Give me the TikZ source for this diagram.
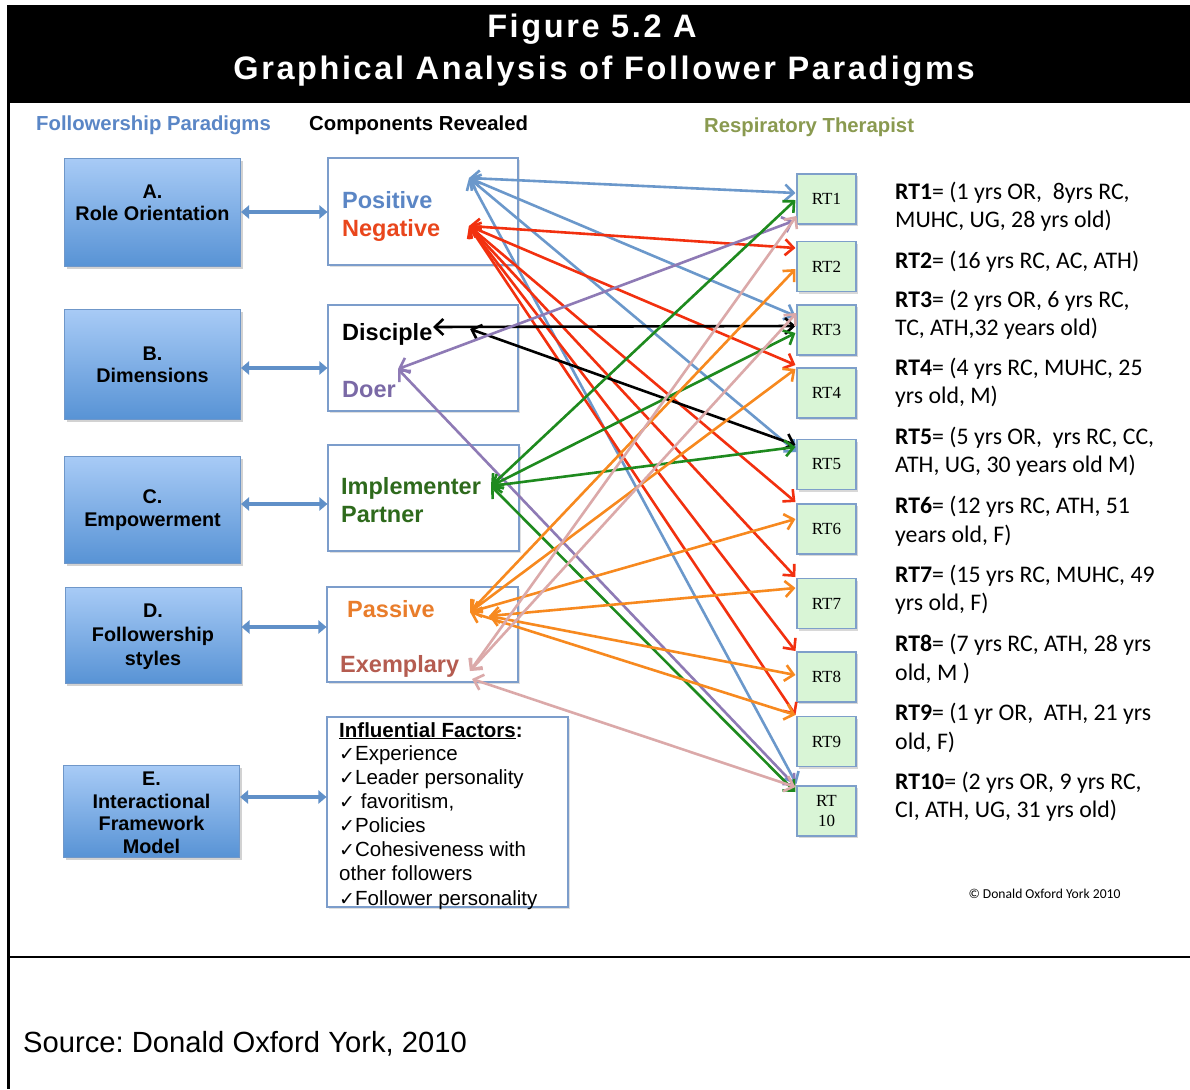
\documentclass[tikz,border=0pt]{standalone}
\usepackage{fontspec}
\setmainfont{Liberation Sans}
\newfontfamily\rtserif{Liberation Serif}
\newfontfamily\notefont{Carlito}
\newfontfamily\tickfont{DejaVu Sans}
\newfontfamily\headfont{Liberation Sans}[LetterSpace=8]
\usetikzlibrary{arrows.meta,shadows,calc}
\frenchspacing

\definecolor{boxtop}{HTML}{A8CBF6}
\definecolor{boxbot}{HTML}{5893D5}
\definecolor{boxedge}{HTML}{6F97C9}
\definecolor{pairblue}{HTML}{6090C8}
\definecolor{compedge}{HTML}{7C9DCB}
\definecolor{rtfill}{HTML}{D9F5D6}
\definecolor{rtedge}{HTML}{7E9FCA}
\definecolor{lnblue}{HTML}{6B98CB}
\definecolor{lnred}{HTML}{F2300F}
\definecolor{lnpurple}{HTML}{8E7AB5}
\definecolor{lngreen}{HTML}{1E8A1E}
\definecolor{lnorange}{HTML}{F7891F}
\definecolor{lnpink}{HTML}{DBA9A9}
\definecolor{txtpos}{HTML}{5B86C5}
\definecolor{txtneg}{HTML}{E9461C}
\definecolor{txtdoer}{HTML}{7A69A6}
\definecolor{txtimpl}{HTML}{2E6A1C}
\definecolor{txtpass}{HTML}{E97D2B}
\definecolor{txtexem}{HTML}{B55C50}
\definecolor{hdrblue}{HTML}{5A86C6}
\definecolor{hdrolive}{HTML}{8A9A50}

\newcommand\tick{{\tickfont\fontsize{19}{19}\selectfont ✓}}

\begin{document}
\begin{tikzpicture}[x=1pt,y=-1pt,
  parabox/.style={draw=boxedge, line width=1pt, top color=boxtop, bottom color=boxbot,
    drop shadow={shadow xshift=2pt, shadow yshift=-2.5pt, opacity=.35},
    inner sep=0pt, minimum width=176pt},
  paratext/.style={font=\bfseries\fontsize{19.8}{22.5}\selectfont, align=center, inner sep=0pt},
  compbox/.style={draw=compedge, line width=1.1pt, fill=white,
    drop shadow={shadow xshift=1.5pt, shadow yshift=-2pt, opacity=.25}, inner sep=0pt},
  comptext/.style={font=\bfseries\fontsize{23.5}{28}\selectfont, anchor=base west, inner sep=0pt},
  pairarrow/.style={draw=pairblue, line width=3.5pt,
    {Triangle[length=8pt,width=13pt]}-{Triangle[length=8pt,width=13pt]}},
  link/.style={draw=#1, line width=2.6pt, line cap=round,
    {Straight Barb[length=8.5pt,width=16pt]}-{Straight Barb[length=8.5pt,width=16pt]}},
  rtbox/.style={draw=rtedge, line width=1.1pt, fill=rtfill,
    drop shadow={shadow xshift=1.5pt, shadow yshift=-2pt, opacity=.3},
    minimum width=59pt, minimum height=50pt, inner sep=0pt, align=center,
    font=\rtserif\fontsize{17}{20}\selectfont},
  note/.style={font=\notefont\fontsize{23.8}{28}\selectfont, anchor=base west, inner sep=0pt},
  factor/.style={font=\fontsize{20.5}{24}\selectfont, anchor=base west, inner sep=0pt}
]
\useasboundingbox (0,0) rectangle (1190,1089);
\fill[white] (0,0) rectangle (1190,1089);

% frame and title band
\fill[black] (7,5) rectangle (1190,103);
\draw[line width=2.5pt] (8.5,5) -- (8.5,1089);
\draw[line width=2.5pt] (8,957) -- (1190,957);
\node[text=white, font=\headfont\bfseries\fontsize{32.5}{38}\selectfont, anchor=base, inner sep=0pt]
  (title1) at (592,38) {Figure 5.2 A};
\node[text=white, font=\headfont\bfseries\fontsize{32.5}{38}\selectfont, anchor=base, inner sep=0pt]
  (title2) at (604,80) {Graphical Analysis of Follower Paradigms};

% column headings
\node[text=hdrblue, font=\bfseries\fontsize{20.3}{24}\selectfont, anchor=base west, inner sep=0pt]
  (hpar) at (36,130) {Followership Paradigms};
\node[font=\bfseries\fontsize{20.3}{24}\selectfont, anchor=base west, inner sep=0pt]
  (hcomp) at (309,130) {Components Revealed};
\node[text=hdrolive, font=\bfseries\fontsize{20.3}{24}\selectfont, anchor=base west, inner sep=0pt]
  (hrt) at (704,132) {Respiratory Therapist};

% paradigm boxes
\node[parabox, minimum height=108pt] (A) at (152.5,212) {};
\node[parabox, minimum height=110pt] (B) at (152.5,364) {};
\node[parabox, minimum height=107pt] (C) at (152.5,509.5) {};
\node[parabox, minimum height=96pt]  (D) at (153,635) {};
\node[parabox, minimum height=92pt]  (E) at (151.5,811) {};
\node[paratext] (Atxt) at (152.5,203) {A.\\Role Orientation};
\node[paratext] (Btxt) at (152.5,365) {B.\\Dimensions};
\node[paratext] (Ctxt) at (152.5,510) {C.\\Empowerment};
\node[paratext, font=\bfseries\fontsize{19.8}{24}\selectfont] (Dtxt) at (153,637) {D.\\Followership\\styles};
\node[paratext] (Etxt) at (151.5,813) {E.\\Interactional\\Framework\\Model};

% component boxes
\node[compbox, minimum width=190pt, minimum height=107pt] (comp1) at (423,211.5) {};
\node[compbox, minimum width=190pt, minimum height=106pt] (comp2) at (423,358) {};
\node[compbox, minimum width=191pt, minimum height=106pt] (comp3) at (423.5,498) {};
\node[compbox, minimum width=191pt, minimum height=95pt]  (comp4) at (422.5,634.5) {};
\node[compbox, minimum width=241pt, minimum height=190pt] (comp5) at (447.5,812) {};

\node[comptext, text=txtpos]  (lpos)  at (342,208) {Positive};
\node[comptext, text=txtneg]  (lneg)  at (342,236) {Negative};
\node[comptext]               (ldis)  at (342,340) {Disciple};
\node[comptext, text=txtdoer] (ldoer) at (342,397) {Doer};
\node[comptext, text=txtimpl] (limp)  at (341,494) {Implementer};
\node[comptext, text=txtimpl] (lpart) at (341,522) {Partner};
\node[comptext, text=txtpass] (lpass) at (347,617) {Passive};
\node[comptext, text=txtexem] (lexem) at (340,672) {Exemplary};

% influential factors list
\node[factor] (f0) at (339,737) {\textbf{\underline{Influential Factors}:}};
\node[factor] (f1) at (339,760) {\tick Experience};
\node[factor] (f2) at (339,784) {\tick Leader personality};
\node[factor] (f3) at (339,808) {\tick\ favoritism,};
\node[factor] (f4) at (339,832) {\tick Policies};
\node[factor] (f5) at (339,856) {\tick Cohesiveness with};
\node[factor] (f6) at (339,880) {other followers};
\node[factor] (f7) at (339,905) {\tick Follower personality};

% paradigm to component links
\draw[pairarrow] (A.east) -- (A.east -| comp1.west);
\draw[pairarrow] ($(B.east)+(0,4)$) -- ($(B.east -| comp2.west)+(0,4)$);
\draw[pairarrow] ($(C.east)+(0,-5.5)$) -- ($(C.east -| comp3.west)+(0,-5.5)$);
\draw[pairarrow] ($(D.east)+(0,-8)$) -- ($(D.east -| comp4.west)+(0,-8)$);
\draw[pairarrow] ($(E.east)+(0,-14)$) -- ($(E.east -| comp5.west)+(0,-14)$);

% respiratory therapist boxes
\node[rtbox] (rt1)  at (826.5,199)   {RT1};
\node[rtbox] (rt2)  at (826.5,266.5) {RT2};
\node[rtbox] (rt3)  at (826.5,330)   {RT3};
\node[rtbox] (rt4)  at (826.5,393)   {RT4};
\node[rtbox] (rt5)  at (826.5,464.5) {RT5};
\node[rtbox] (rt6)  at (826.5,529)   {RT6};
\node[rtbox] (rt7)  at (826.5,603.5) {RT7};
\node[rtbox] (rt8)  at (826.5,677)   {RT8};
\node[rtbox] (rt9)  at (826.5,741.5) {RT9};
\node[rtbox] (rt10) at (826.5,811)   {RT\\10};

% arrow ends inside the component boxes
\coordinate (cpos)  at (469,178);
\coordinate (cneg)  at (469,226);
\coordinate (cdisa) at (433,327);
\coordinate (cdisb) at (470,329);
\coordinate (cdoer) at (398,369);
\coordinate (cimp)  at (491,486);
\coordinate (cpasa) at (470,612);
\coordinate (cpasb) at (489,616);
\coordinate (cexa)  at (470,671);
\coordinate (cexb)  at (472,679);

% blue: positive
\draw[link=lnblue] (cpos) -- ($(rt1.west)+(-1,-6)$);
\draw[link=lnblue] (cpos) -- ($(rt3.west)+(-1,-14)$);
\draw[link=lnblue] (cpos) -- ($(rt5.west)+(0,-12.5)$);
\draw[link=lnblue] (cpos) -- ($(rt10.west)+(0,-27)$);
% red: negative
\draw[link=lnred] (cneg) -- ($(rt2.west)+(-1,-18.5)$);
\draw[link=lnred] (cneg) -- ($(rt4.west)+(-1,-28)$);
\draw[link=lnred] (cneg) -- ($(rt6.west)+(-1,-27)$);
\draw[link=lnred] (cneg) -- ($(rt7.west)+(-1,-26.5)$);
\draw[link=lnred] (cneg) -- ($(rt8.west)+(-1,-26)$);
\draw[link=lnred] (cneg) -- ($(rt9.west)+(-1,-26.5)$);
% black: disciple
\draw[link=black] (cdisa) -- ($(rt3.west)+(-1,-4)$);
\draw[link=black] (cdisb) -- ($(rt5.west)+(-1,-19.5)$);
% purple: doer
\draw[link=lnpurple] (cdoer) -- ($(rt1.west)+(-3,22)$);
\draw[link=lnpurple] (cdoer) -- ($(rt10.west)+(-1,-25)$);
% green: implementer / partner
\draw[link=lngreen] (cimp) -- ($(rt1.west)+(-1,1)$);
\draw[link=lngreen] (cimp) -- ($(rt3.west)+(-1,3)$);
\draw[link=lngreen] (cimp) -- ($(rt5.west)+(-1,-17.5)$);
\draw[link=lngreen] (cimp) -- ($(rt10.west)+(-1,-19)$);
% orange: passive
\draw[link=lnorange] (cpasa) -- ($(rt2.west)+(-1,2.5)$);
\draw[link=lnorange] (cpasa) -- ($(rt4.west)+(-1,-24)$);
\draw[link=lnorange] (cpasa) -- ($(rt6.west)+(-1,-10)$);
\draw[link=lnorange] (cpasa) -- ($(rt9.west)+(-1,-26.5)$);
\draw[link=lnorange] (cpasb) -- ($(rt7.west)+(-1,-15.5)$);
\draw[link=lnorange] (cpasb) -- ($(rt8.west)+(-1,-2)$);
% pink: exemplary
\draw[link=lnpink] (cexa) -- ($(rt1.west)+(0,17)$);
\draw[link=lnpink] (cexa) -- ($(rt3.west)+(0,-17)$);
\draw[link=lnpink] (cexb) -- ($(rt10.west)+(-1,-24)$);

% therapist descriptions
\node[note] (d1a)  at (895,199) {\textbf{RT1}= (1 yrs OR, \ 8yrs RC,};
\node[note] (d1b)  at (895,227) {MUHC, UG, 28 yrs old)};
\node[note] (d2a)  at (895,268) {\textbf{RT2}= (16 yrs RC, AC, ATH)};
\node[note] (d3a)  at (895,307) {\textbf{RT3}= (2 yrs OR, 6 yrs RC,};
\node[note] (d3b)  at (895,335) {TC, ATH,32 years old)};
\node[note] (d4a)  at (895,375) {\textbf{RT4}= (4 yrs RC, MUHC, 25};
\node[note] (d4b)  at (895,403) {yrs old, M)};
\node[note] (d5a)  at (895,444) {\textbf{RT5}= (5 yrs OR, \ yrs RC, CC,};
\node[note] (d5b)  at (895,472) {ATH, UG, 30 years old M)};
\node[note] (d6a)  at (895,513) {\textbf{RT6}= (12 yrs RC, ATH, 51};
\node[note] (d6b)  at (895,542) {years old, F)};
\node[note] (d7a)  at (895,582) {\textbf{RT7}= (15 yrs RC, MUHC, 49};
\node[note] (d7b)  at (895,610) {yrs old, F)};
\node[note] (d8a)  at (895,651) {\textbf{RT8}= (7 yrs RC, ATH, 28 yrs};
\node[note] (d8b)  at (895,680) {old, M )};
\node[note] (d9a)  at (895,720) {\textbf{RT9}= (1 yr OR, \ ATH, 21 yrs};
\node[note] (d9b)  at (895,749) {old, F)};
\node[note] (d10a) at (895,789) {\textbf{RT10}= (2 yrs OR, 9 yrs RC,};
\node[note] (d10b) at (895,817) {CI, ATH, UG, 31 yrs old)};

\node[font=\notefont\fontsize{13.6}{15}\selectfont, inner sep=0pt] (copy) at (1044.5,894) {© Donald Oxford York 2010};

% source line
\node[font=\fontsize{29.2}{34}\selectfont, anchor=base west, inner sep=0pt]
  (src) at (23,1052.5) {Source: Donald Oxford York, 2010};
\end{tikzpicture}
\end{document}
